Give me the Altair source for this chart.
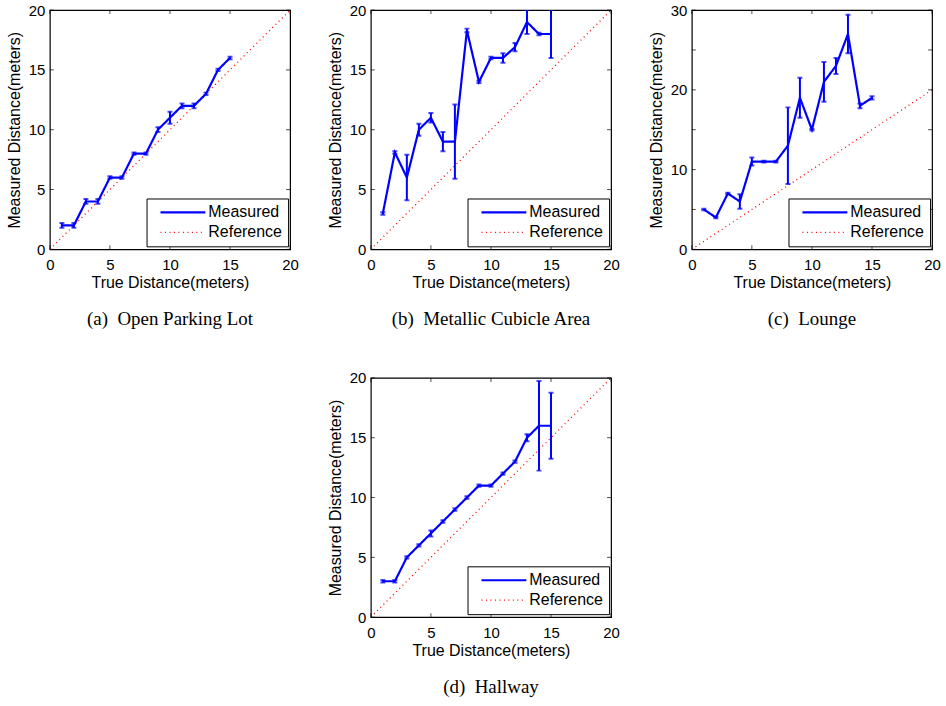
import altair as alt
import pandas as pd

# ---------------- data ----------------
true_x = [1, 2, 3, 4, 5, 6, 7, 8, 9, 10, 11, 12, 13, 14, 15]

a_mean = [2, 2, 4, 4, 6, 6, 8, 8, 10, 11, 12, 12, 13, 15, 16]
a_err = [0.2, 0.2, 0.2, 0.2, 0.1, 0.1, 0.1, 0.1, 0.2, 0.5, 0.2, 0.2, 0.1, 0.1, 0.1]

b_mean = [3, 8.1, 6, 10, 11, 9, 9, 18.3, 14, 16, 16, 16.9, 19, 18, 18]
b_err = [0.1, 0.1, 1.9, 0.5, 0.4, 0.8, 3.1, 0.15, 0.1, 0.1, 0.4, 0.35, 1.0, 0.1, 2.0]

c_mean = [5, 4, 7, 6, 11, 11, 11, 13, 19, 15, 21, 23, 27, 18, 19]
c_err = [0.1, 0.1, 0.1, 0.9, 0.5, 0.1, 0.1, 4.8, 2.5, 0.1, 2.5, 1.0, 2.4, 0.3, 0.2]

d_mean = [3, 3, 5, 6, 7, 8, 9, 10, 11, 11, 12, 13, 15, 16, 16]
d_err = [0.1, 0.1, 0.1, 0.1, 0.25, 0.1, 0.1, 0.1, 0.1, 0.1, 0.1, 0.1, 0.3, 3.75, 2.75]

ref_x = [0, 20]
ref_y = [0, 20]

x_ticks = [0, 5, 10, 15, 20]
y_ticks_20 = [0, 5, 10, 15, 20]
y_ticks_30 = [0, 5, 10, 15, 20, 25, 30]

series_names = ["Measured", "Reference"]
captions = ["(a)\u2002Open Parking Lot", "(b)\u2002Metallic Cubicle Area",
            "(c)\u2002Lounge", "(d)\u2002Hallway"]

BLUE = "#0000ff"
RED = "#ff0000"
SANS = "Liberation Sans"
SERIF = "Liberation Serif"
W, H = 241, 240


def panel(mean, err, ymax, yticks, caption):
    meas = pd.DataFrame({
        "x": true_x, "y": mean,
        "lo": [m - e for m, e in zip(mean, err)],
        "hi": [m + e for m, e in zip(mean, err)],
        "series": "Measured",
    })
    ref = pd.DataFrame({"x": ref_x, "y": ref_y, "series": "Reference"})
    lines = pd.concat([ref, meas[["x", "y", "series"]]], ignore_index=True)

    xs = alt.Scale(domain=[0, 20], nice=False, zero=False)
    ys = alt.Scale(domain=[0, ymax], nice=False, zero=False)

    xaxis = alt.Axis(title="True Distance(meters)", values=x_ticks, grid=False,
                     ticks=False, domain=False, labelFont=SANS, labelFontSize=15,
                     labelColor="black", labelPadding=8, titleFont=SANS,
                     titleFontSize=16, titleFontWeight="normal", titleColor="black",
                     titlePadding=2, labelFlush=False)
    yaxis = alt.Axis(title="Measured Distance(meters)", values=yticks, grid=False,
                     ticks=False, domain=False, labelFont=SANS, labelFontSize=15,
                     labelColor="black", labelPadding=5, titleFont=SANS,
                     titleFontSize=16, titleFontWeight="normal", titleColor="black",
                     titlePadding=6, labelFlush=False)

    legend = alt.Legend(title=None, orient="none", legendX=97, legendY=189,
                        strokeColor="black", fillColor="white", padding=6,
                        labelFont=SANS, labelFontSize=16, labelColor="black",
                        symbolType="M0,0H10", symbolSize=81, labelOffset=40,
                        rowPadding=4)

    line = alt.Chart(lines).mark_line(clip=True).encode(
        x=alt.X("x:Q", scale=xs, axis=xaxis),
        y=alt.Y("y:Q", scale=ys, axis=yaxis),
        color=alt.Color("series:N", scale=alt.Scale(domain=series_names, range=[BLUE, RED]),
                        legend=legend),
        strokeDash=alt.StrokeDash("series:N", scale=alt.Scale(domain=series_names,
                                                              range=[[1, 0], [1, 3.5]]),
                                  legend=legend),
        strokeWidth=alt.StrokeWidth("series:N", scale=alt.Scale(domain=series_names,
                                                                range=[2.2, 1.3]),
                                    legend=legend),
        order=alt.Order("x:Q"),
        detail="series:N",
    )

    bars = alt.Chart(meas).mark_rule(color=BLUE, strokeWidth=2, clip=True).encode(
        x="x:Q", y="lo:Q", y2="hi:Q")
    cap_lo = alt.Chart(meas).mark_tick(color=BLUE, orient="horizontal", size=5,
                                       thickness=2, clip=True).encode(x="x:Q", y="lo:Q")
    cap_hi = alt.Chart(meas).mark_tick(color=BLUE, orient="horizontal", size=5,
                                       thickness=2, clip=True).encode(x="x:Q", y="hi:Q")

    xt = pd.DataFrame({"t": x_ticks})
    yt = pd.DataFrame({"t": yticks})
    tb = alt.Chart(xt).mark_tick(color="black", orient="vertical", size=4, thickness=1,
                                 yOffset=-2).encode(x="t:Q", y=alt.datum(0))
    tt = alt.Chart(xt).mark_tick(color="black", orient="vertical", size=4, thickness=1,
                                 yOffset=2).encode(x="t:Q", y=alt.datum(ymax))
    tl = alt.Chart(yt).mark_tick(color="black", orient="horizontal", size=4, thickness=1,
                                 xOffset=2).encode(y="t:Q", x=alt.datum(0))
    tr = alt.Chart(yt).mark_tick(color="black", orient="horizontal", size=4, thickness=1,
                                 xOffset=-2).encode(y="t:Q", x=alt.datum(20))

    return alt.layer(line, bars, cap_lo, cap_hi, tb, tt, tl, tr).properties(
        width=W, height=H,
        title=alt.Title(caption, orient="bottom", anchor="middle", font=SERIF,
                        fontSize=19, fontWeight="normal", color="black", offset=20),
    )


pa = panel(a_mean, a_err, 20, y_ticks_20, captions[0])
pb = panel(b_mean, b_err, 20, y_ticks_20, captions[1])
pc = panel(c_mean, c_err, 30, y_ticks_30, captions[2])
pd_ = panel(d_mean, d_err, 20, y_ticks_20, captions[3])

blank = alt.Chart(pd.DataFrame({"v": [0]})).mark_point(opacity=0).encode(
    x=alt.X("v:Q", axis=None), y=alt.Y("v:Q", axis=None)
).properties(width=W, height=H, view=alt.ViewBackground(strokeOpacity=0))

chart = alt.concat(pa, pb, pc, blank, pd_, columns=3, bounds="flush",
                   spacing=alt.RowColnumber(row=129, column=81)).resolve_scale(
    x="independent", y="independent", color="independent",
    strokeDash="independent", strokeWidth="independent"
).resolve_legend(
    color="independent", strokeDash="independent", strokeWidth="independent"
).properties(
    padding={"left": 5, "top": 1, "right": 5, "bottom": 5}, background="white"
).configure(
    view=alt.ViewConfig(stroke="black", strokeWidth=1.2)
)

chart.save("out.html", embed_options={"renderer": "svg", "actions": False})
